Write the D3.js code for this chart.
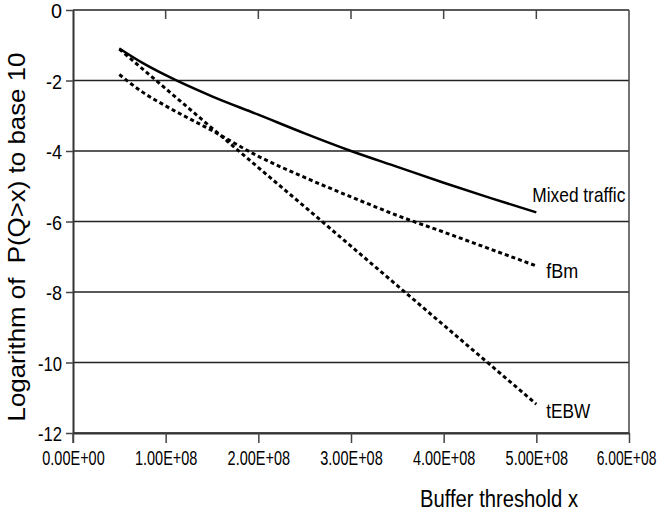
<!DOCTYPE html>
<html>
<head>
<meta charset="utf-8">
<script src="https://cdn.jsdelivr.net/npm/d3@7"></script>
<style>
  body { margin: 0; background: #fff; }
  text { font-family: Arial, "Liberation Sans", sans-serif; fill: #000; }
</style>
</head>
<body>
<div id="chart"></div>
<script>
// buffer threshold values (x) and log10 P(Q>x)
const xValues = [5e7, 7.5e7, 1e8, 1.5e8, 2e8, 2.5e8, 3e8, 3.5e8, 4e8, 4.5e8, 5e8];
const mixedTraffic = [-1.09, -1.50, -1.85, -2.45, -2.97, -3.50, -4.00, -4.45, -4.90, -5.33, -5.74];
const fbm = [-1.83, -2.33, -2.72, -3.42, -4.15, -4.75, -5.30, -5.83, -6.30, -6.78, -7.26];
const tebw = [-1.11, -1.67, -2.23, -3.35, -4.47, -5.58, -6.70, -7.82, -8.94, -10.06, -11.18];
const seriesNames = ["Mixed traffic", "fBm", "tEBW"];
const xTicks = [0, 1e8, 2e8, 3e8, 4e8, 5e8, 6e8];
const xTickLabels = ["0.00E+00", "1.00E+08", "2.00E+08", "3.00E+08", "4.00E+08", "5.00E+08", "6.00E+08"];
const yTicks = [0, -2, -4, -6, -8, -10, -12];

const W = 665, H = 524;
const margin = { top: 10, right: 36, bottom: 91, left: 73 };
const width = W - margin.left - margin.right;
const height = H - margin.top - margin.bottom;

const svg = d3.select("#chart").append("svg")
  .attr("width", W)
  .attr("height", H);

const g = svg.append("g")
  .attr("transform", `translate(${margin.left},${margin.top})`);

const x = d3.scaleLinear().domain([0, 6e8]).range([0, width]);
const y = d3.scaleLinear().domain([-12, 0]).range([height, 0]);

// horizontal gridlines
g.selectAll(".grid")
  .data(yTicks)
  .enter().append("line")
  .attr("class", "grid")
  .attr("x1", 0).attr("x2", width)
  .attr("y1", d => y(d)).attr("y2", d => y(d))
  .attr("stroke", "#222")
  .attr("stroke-width", 1.5);

// right border
g.append("line")
  .attr("x1", width).attr("x2", width)
  .attr("y1", 0).attr("y2", height)
  .attr("stroke", "#444").attr("stroke-width", 1.5);

// ticks hanging from the top line
g.selectAll(".topTick")
  .data(xTicks.slice(1, -1))
  .enter().append("line")
  .attr("x1", d => x(d)).attr("x2", d => x(d))
  .attr("y1", 0).attr("y2", 9)
  .attr("stroke", "#444").attr("stroke-width", 1.5);

const xAxis = g.append("g")
  .attr("transform", `translate(0,${height})`)
  .call(d3.axisBottom(x).tickValues(xTicks).tickFormat((d, i) => xTickLabels[i])
    .tickSize(10).tickSizeOuter(0).tickPadding(7));

const yAxis = g.append("g")
  .call(d3.axisLeft(y).tickValues(yTicks).tickFormat(d => String(d))
    .tickSize(7).tickSizeOuter(0).tickPadding(4));

[xAxis, yAxis].forEach(a => {
  a.select(".domain").attr("stroke", "#333").attr("stroke-width", 2);
  a.selectAll(".tick line").attr("stroke", "#444").attr("stroke-width", 1.5);
  a.selectAll("text")
    .style("font-family", "Arial, 'Liberation Sans', sans-serif")
    .style("font-size", "21px")
    .attr("fill", "#000");
});
// the original tick labels are horizontally condensed
xAxis.selectAll("text")
  .attr("transform", (d, i) => i === xTicks.length - 1 ? "translate(-3,0) scale(0.66,1)" : "scale(0.69,1)");
yAxis.selectAll("text").attr("dy", "0.36em")
  .attr("textLength", d => d === 0 ? 11 : (d <= -10 ? 24 : 16))
  .attr("lengthAdjust", "spacingAndGlyphs");
// extend left axis below the x axis
yAxis.append("line")
  .attr("x1", 0).attr("x2", 0)
  .attr("y1", height).attr("y2", height + 10)
  .attr("stroke", "#444").attr("stroke-width", 1.5);

// series
const line = d3.line()
  .x((d, i) => x(xValues[i]))
  .y(d => y(d))
  .curve(d3.curveMonotoneX);

const series = [
  { name: seriesNames[0], values: mixedTraffic, dash: null, width: 2.5 },
  { name: seriesNames[1], values: fbm, dash: "4,3", width: 3 },
  { name: seriesNames[2], values: tebw, dash: "4,3", width: 3 }
];

g.selectAll(".series")
  .data(series)
  .enter().append("path")
  .attr("class", "series")
  .attr("d", d => line(d.values))
  .attr("fill", "none")
  .attr("stroke", "#000")
  .attr("stroke-width", d => d.width)
  .attr("stroke-dasharray", d => d.dash);

// series labels near line ends
const labelLen = { "Mixed traffic": 93, "fBm": 32, "tEBW": 44 };
const labelDx = { "Mixed traffic": -4, "fBm": 10, "tEBW": 10 };
const labelDy = { "Mixed traffic": -10, "fBm": 12, "tEBW": 14 };
g.selectAll(".label")
  .data(series)
  .enter().append("text")
  .attr("class", "label")
  .attr("x", d => x(xValues[xValues.length - 1]) + labelDx[d.name])
  .attr("y", d => y(d.values[d.values.length - 1]) + labelDy[d.name])
  .style("font-size", "21px")
  .attr("textLength", d => labelLen[d.name])
  .attr("lengthAdjust", "spacingAndGlyphs")
  .text(d => d.name);

// axis titles
svg.append("text")
  .attr("x", 499)
  .attr("y", 507)
  .attr("text-anchor", "middle")
  .style("font-size", "23px")
  .attr("textLength", 158)
  .attr("lengthAdjust", "spacingAndGlyphs")
  .text("Buffer threshold x");

svg.append("text")
  .attr("transform", "translate(25,237) rotate(-90)")
  .attr("text-anchor", "middle")
  .style("font-size", "24px")
  .style("white-space", "pre")
  .attr("textLength", 369)
  .attr("lengthAdjust", "spacingAndGlyphs")
  .text("Logarithm of  P(Q>x) to base 10");
</script>
</body>
</html>
